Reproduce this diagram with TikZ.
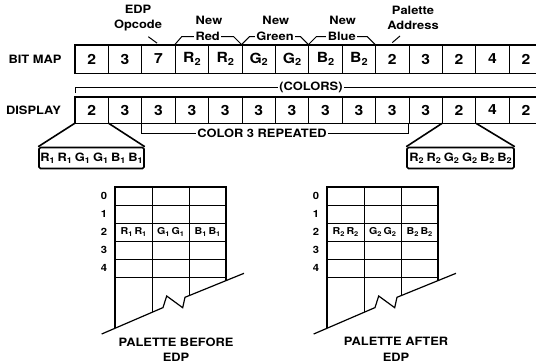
\documentclass[tikz,border=0pt]{standalone}
\usepackage{fontspec}
\setmainfont{TeX Gyre Heros}[FakeStretch=1.12]
\usepackage{graphicx}
\usetikzlibrary{calc}

\newcommand\lowidx[1]{\raisebox{-0.3ex}{\scalebox{0.7}{#1}}}
\newcommand\colpairs[1]{R\lowidx{#1}\hspace{3pt}R\lowidx{#1}\hspace{3pt}G\lowidx{#1}\hspace{3pt}G\lowidx{#1}\hspace{3pt}B\lowidx{#1}\hspace{3pt}B\lowidx{#1}}

\begin{document}
\begin{tikzpicture}[x = 1pt, y = -1pt, font = \bfseries,
	cell/.style = {draw, line width = 0.8pt, minimum width = 33.4pt, inner sep = 0pt, font = \bfseries\fontsize{14}{14}\selectfont},
	rowname/.style = {font = \bfseries\fontsize{11.5}{12}\selectfont},
	note/.style = {align = center, font = \bfseries\fontsize{11.5}{15.5}\selectfont},
	blank/.style = {fill = white, inner sep = 1.5pt},
	leader/.style = {line width = 1pt},
	frame/.style = {line width = 1.6pt},
	swatch/.style = {draw, line width = 1.6pt, rounded corners = 1.5pt, inner sep = 0pt, minimum height = 21pt, font = \bfseries\fontsize{11.5}{11.5}\selectfont},
	grid line/.style = {line width = 0.7pt},
	entry/.style = {inner sep = 0pt, font = \bfseries\fontsize{9.5}{9.5}\selectfont},
	number/.style = {inner sep = 0pt, font = \bfseries\fontsize{10}{10}\selectfont}]

	\useasboundingbox (0, 0) rectangle (536, 364);

	% Definitions

	\def\xo{75}		% left edge of both rows
	\def\cw{33.4}	% cell width

	% Bit map row

	\node [rowname] (bitmap) at (35, 59) {BIT MAP};
	\foreach \v [count = \i from 0] in {2, 3, 7, R\lowidx{2}, R\lowidx{2}, G\lowidx{2}, G\lowidx{2}, B\lowidx{2}, B\lowidx{2}, 2, 3, 2, 4, 2}
		\node [cell, minimum height = 28pt] (b\i) at ({\xo + \cw*\i + \cw/2}, 59) {\v};
	\draw [frame] (b0.north west) rectangle (b13.south east);

	% Display row

	\node [rowname] (display) at (33.5, 110) {DISPLAY};
	\foreach \v [count = \i from 0] in {2, 3, 3, 3, 3, 3, 3, 3, 3, 3, 3, 2, 4, 2}
		\node [cell, minimum height = 26pt] (d\i) at ({\xo + \cw*\i + \cw/2}, 110) {\v};
	\draw [frame] (d0.north west) rectangle (d13.south east);

	% Brackets over the new colours

	\draw [leader] (b3.north west) -- ++(7, -8) -- ++(51.8, 0) node [midway, blank, note] (red) {Red} -- (b5.north west);
	\draw [leader] (b5.north west) -- ++(8, -8) -- ++(50.8, 0) node [midway, blank, note] (green) {Green} -- (b7.north west);
	\draw [leader] (b7.north west) -- ++(8, -8) -- ++(50.8, 0) node [midway, blank, note] (blue) {Blue} -- (b9.north west);

	\foreach \i in {3, 5, 7}
		\node [note] (new\i) at ([yshift = 24pt] b\i.north east) {New};

	% Opcode and address labels

	\node [note] (edp) at (138, 18) {EDP\\Opcode};
	\coordinate (edp tip) at (148.3, 36.7);
	\draw [leader] (edp tip) -- ([xshift = -1.5pt, yshift = 1.5pt] b2.north);

	\node [note] (addr) at (413, 18) {Palette\\Address};
	\coordinate (addr tip) at (400, 36);
	\draw [leader] (addr tip) -- ([yshift = 2pt] b9.north);

	% Colors bracket

	\coordinate (colors tick) at (75, 93);
	\draw [leader] (colors tick) -- ++(0, -6) -- (540, 87);
	\node [note, blank] (colors) at (311, 87) {(COLORS)};

	% Repeated bracket

	\draw [leader] (d2.south west) -- ++(0, 10.5) -| (d10.south west);
	\node [note, blank] (repeat) at (262, 133.5) {COLOR 3 REPEATED};

	% Palette entries blown up

	\node [swatch, minimum width = 105pt] (sw1) at (91.5, 158) {\colpairs{1}};
	\node [swatch, minimum width = 107pt] (sw2) at (460.5, 158) {\colpairs{2}};
	\draw [frame] (d0.south west) -- (sw1.north west) (d0.south east) -- (sw1.north east);
	\draw [frame] (d11.south west) -- (sw2.north west) (d11.south east) -- (sw2.north east);

	% Palettes

	\foreach \px/\pn/\when/\tx in {115/1/BEFORE/176, 327/2/AFTER/396} {
		\begin{scope}[shift = {(\px, 0)}]
			% grid
			\foreach \y in {205, 223, 241, 259, 277}
				\draw [grid line] (0, \y) -- (111, \y);
			\draw [grid line] (37, 187) -- (37, 312.4);
			\draw [grid line] (74, 187) -- (74, 295.7);
			\draw [frame] (0, 328.3) -- (0, 187) -- (111, 187) -- (111, 280.6);
			% break
			\draw [line width = 1.2pt] (-13.3, 334) -- (48, 307.6) -- (51.7, 296) -- (67.7, 307.7) -- (70, 297.3) -- (129, 273.3);
			% addresses
			\foreach \r in {0, 1, 2, 3, 4}
				\node [number] (num\pn\r) at (-11, 196 + 18*\r) {\r};
			% entry 2
			\node [entry] (red\pn) at (18.5, 232) {R\lowidx{\pn}\hspace{2pt}R\lowidx{\pn}};
			\node [entry] (green\pn) at (55.5, 232) {G\lowidx{\pn}\hspace{2pt}G\lowidx{\pn}};
			\node [entry] (blue\pn) at (92.5, 232) {B\lowidx{\pn}\hspace{2pt}B\lowidx{\pn}};
		\end{scope}
		\node [note, align = center] (title\pn) at (\tx, 349.5) {PALETTE \when\\EDP};
	}

\end{tikzpicture}
\end{document}
